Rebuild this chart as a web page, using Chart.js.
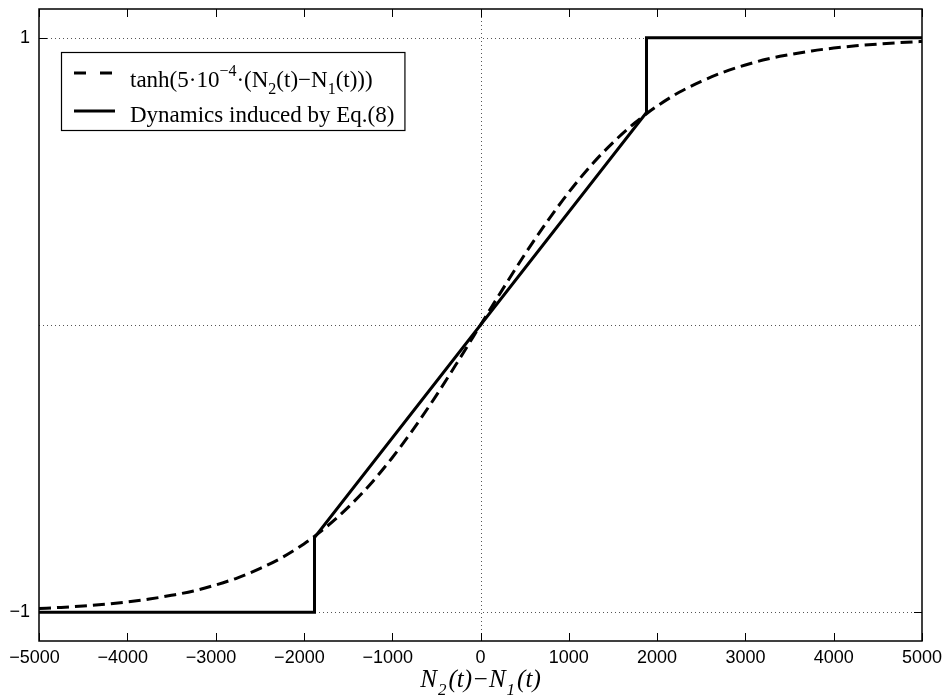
<!DOCTYPE html>
<html lang="en">
<head>
    <meta charset="UTF-8">
    <title>tanh vs dynamics</title>
    <script src="https://cdn.jsdelivr.net/npm/chart.js"></script>
    <style>
        html, body { margin: 0; padding: 0; background: #fff; }
        #wrap { width: 944px; height: 699px; }
    </style>
</head>
<body>
    <div id="wrap"><canvas id="chart" width="944" height="699"></canvas></div>
    <script>
        // tanh curve, every 250
        var dashX = [-5000, -4750, -4500, -4250, -4000, -3750, -3500, -3250, -3000, -2750,
                     -2500, -2250, -2000, -1750, -1500, -1250, -1000, -750, -500, -250,
                     0, 250, 500, 750, 1000, 1250, 1500, 1750, 2000, 2250,
                     2500, 2750, 3000, 3250, 3500, 3750, 4000, 4250, 4500, 4750, 5000];
        var dashY = [-0.987, -0.983, -0.978, -0.972, -0.964, -0.954, -0.941, -0.926, -0.905, -0.880,
                     -0.848, -0.810, -0.762, -0.704, -0.635, -0.555, -0.462, -0.358, -0.245, -0.124,
                     0, 0.124, 0.245, 0.358, 0.462, 0.555, 0.635, 0.704, 0.762, 0.810,
                     0.848, 0.880, 0.905, 0.926, 0.941, 0.954, 0.964, 0.972, 0.978, 0.983, 0.987];

        // piecewise dynamics (solid)
        var stepX = [-5000, -1880, -1880, 1880, 1880, 5000];
        var stepY = [-1, -1, -0.74, 0.74, 1, 1];

        var xTicks = [-5000, -4000, -3000, -2000, -1000, 0, 1000, 2000, 3000, 4000, 5000];
        var yTicks = [-1, 0, 1];
        var yLabels = ['\u22121', '', '1'];

        function pts(xs, ys) {
            return xs.map(function (x, i) { return { x: x, y: ys[i] }; });
        }

        function drawParts(ctx, parts, x, y) {
            parts.forEach(function (p) {
                ctx.font = p[1];
                ctx.fillText(p[0], x, y + p[2]);
                x += ctx.measureText(p[0]).width + (p[3] || 0);
            });
            return x;
        }
        function partsWidth(ctx, parts) {
            var w = 0;
            parts.forEach(function (p) { ctx.font = p[1]; w += ctx.measureText(p[0]).width + (p[3] || 0); });
            return w;
        }

        // dotted grid, box and inward tick marks like the original figure
        var frame = {
            id: 'frame',
            beforeDatasetsDraw: function (chart) {
                var ctx = chart.ctx, a = chart.chartArea;
                var xs = chart.scales.x, ys = chart.scales.y;
                ctx.save();
                ctx.strokeStyle = '#555';
                ctx.lineWidth = 1;
                ctx.setLineDash([1, 3]);
                yTicks.forEach(function (v) {
                    var py = Math.round(ys.getPixelForValue(v)) + 0.5;
                    ctx.beginPath(); ctx.moveTo(a.left, py); ctx.lineTo(a.right, py); ctx.stroke();
                });
                var px0 = Math.round(xs.getPixelForValue(0)) + 0.5;
                ctx.beginPath(); ctx.moveTo(px0, a.top); ctx.lineTo(px0, a.bottom); ctx.stroke();
                ctx.restore();
            },
            afterDraw: function (chart) {
                var ctx = chart.ctx, a = chart.chartArea;
                var xs = chart.scales.x, ys = chart.scales.y;
                var t = 8;
                ctx.save();
                ctx.strokeStyle = '#000';
                ctx.lineWidth = 1.5;
                ctx.setLineDash([]);
                ctx.strokeRect(a.left, a.top, a.right - a.left, a.bottom - a.top);
                ctx.lineWidth = 1;
                xTicks.forEach(function (v) {
                    var px = Math.round(xs.getPixelForValue(v)) + 0.5;
                    ctx.beginPath();
                    ctx.moveTo(px, a.bottom); ctx.lineTo(px, a.bottom - t);
                    ctx.moveTo(px, a.top); ctx.lineTo(px, a.top + t);
                    ctx.stroke();
                });
                [-1, 1].forEach(function (v) {
                    var py = Math.round(ys.getPixelForValue(v)) + 0.5;
                    ctx.beginPath();
                    ctx.moveTo(a.left, py); ctx.lineTo(a.left + t, py);
                    ctx.moveTo(a.right, py); ctx.lineTo(a.right - t, py);
                    ctx.stroke();
                });

                // legend
                var big = '23px "Liberation Serif", serif', small = '16px "Liberation Serif", serif';
                var line1 = [
                    ['tanh(5\u00b710', big, 0], ['\u22124', small, -11], ['\u00b7(N', big, 0],
                    ['2', small, 7], ['(t)\u2212N', big, 0], ['1', small, 7], ['(t)))', big, 0]
                ];
                var line2 = [[chart.data.datasets[1].label, big, 0]];
                var tx0 = 130;
                var wText = Math.max(partsWidth(ctx, line1), partsWidth(ctx, line2));
                var lx = 61, ly = 52, lw = tx0 + wText + 10 - lx, lh = 78;
                ctx.fillStyle = '#fff';
                ctx.fillRect(lx, ly, lw, lh);
                ctx.lineWidth = 1.2;
                ctx.strokeStyle = '#000';
                ctx.strokeRect(lx + 0.5, ly + 0.5, lw, lh);
                ctx.lineWidth = 3;
                ctx.setLineDash([12, 14]);
                ctx.beginPath(); ctx.moveTo(74, 73); ctx.lineTo(115, 73); ctx.stroke();
                ctx.setLineDash([]);
                ctx.beginPath(); ctx.moveTo(74, 111); ctx.lineTo(115, 111); ctx.stroke();

                ctx.fillStyle = '#000';
                ctx.textBaseline = 'alphabetic';
                ctx.textAlign = 'left';
                drawParts(ctx, line1, tx0, 87);
                drawParts(ctx, line2, tx0, 122);

                // x axis title
                var it = 'italic 25px "Liberation Serif", serif', its = 'italic 17px "Liberation Serif", serif';
                var tparts = [['N', it, 0, 1], ['2', its, 8, 2], ['(t)\u2212N', it, 0, 1], ['1', its, 8, 2], ['(t)', it, 0]];
                var tw = partsWidth(ctx, tparts);
                drawParts(ctx, tparts, xs.getPixelForValue(0) - tw / 2, 687);
                ctx.restore();
            }
        };

        new Chart(document.getElementById('chart'), {
            type: 'line',
            data: {
                datasets: [{
                    label: 'tanh(5\u00b710\u207b\u2074\u00b7(N\u2082(t)\u2212N\u2081(t)))',
                    data: pts(dashX, dashY),
                    borderColor: '#000',
                    borderWidth: 3,
                    borderDash: [12, 6],
                    pointRadius: 0,
                    cubicInterpolationMode: 'monotone',
                    fill: false
                }, {
                    label: 'Dynamics induced by Eq.(8)',
                    data: pts(stepX, stepY),
                    borderColor: '#000',
                    borderWidth: 3,
                    pointRadius: 0,
                    tension: 0,
                    fill: false
                }]
            },
            options: {
                responsive: false,
                animation: false,
                layout: { padding: { top: 9, right: 22, left: 0, bottom: 0 } },
                plugins: { legend: { display: false }, tooltip: { enabled: false } },
                scales: {
                    x: {
                        type: 'linear',
                        min: -5000,
                        max: 5000,
                        grid: { display: false, drawTicks: false },
                        border: { display: false },
                        afterBuildTicks: function (s) { s.ticks = xTicks.map(function (v) { return { value: v }; }); },
                        afterFit: function (s) { s.height = 58; s.paddingLeft = 0; s.paddingRight = 0; },
                        ticks: {
                            padding: 6,
                            maxRotation: 0,
                            color: '#000',
                            font: { family: '"Liberation Sans", Arial, sans-serif', size: 18 },
                            // MATLAB centres the digits, the minus hangs to the left
                            callback: function (v) { return v < 0 ? '\u2212' + Math.abs(v) + '\u2002' : String(v); }
                        }
                    },
                    y: {
                        type: 'linear',
                        min: -1.1,
                        max: 1.1,
                        grid: { display: false, drawTicks: false },
                        border: { display: false },
                        afterBuildTicks: function (s) { s.ticks = yTicks.map(function (v) { return { value: v }; }); },
                        afterFit: function (s) { s.width = 39; s.paddingTop = 0; s.paddingBottom = 0; },
                        ticks: {
                            padding: 9,
                            color: '#000',
                            font: { family: '"Liberation Sans", Arial, sans-serif', size: 18 },
                            callback: function (v) { return yLabels[yTicks.indexOf(v)]; }
                        }
                    }
                }
            },
            plugins: [frame]
        });
    </script>
</body>
</html>
